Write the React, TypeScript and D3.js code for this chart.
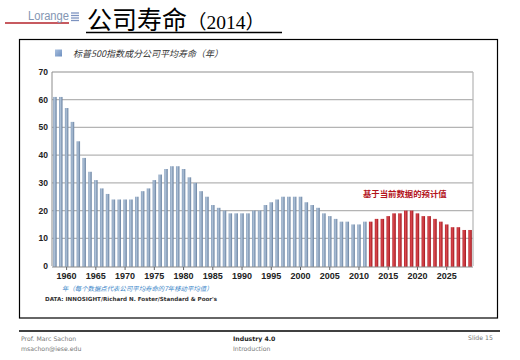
import React, { useRef, useEffect } from 'react';
import * as d3 from 'd3';

// S&P 500 average company lifespan (7-year rolling average), years
const firstYear = 1958;
const actualValues = [
  61, 61, 57, 52, 45, 39, 34, 31, 28, 26,
  24, 24, 24, 24, 25, 27, 28, 31, 33, 35,
  36, 36, 35, 32, 30, 27, 25, 22, 21, 20,
  19, 19, 19, 19, 20, 20, 22, 23, 24, 25,
  25, 25, 25, 23, 22, 21, 19, 18, 17, 16,
  16, 15, 15, 16,
];
// projection based on current data, 2012 onwards
const projectedValues = [16, 17, 17, 18, 19, 19, 20, 20, 19, 18, 18, 17, 16, 15, 14, 14, 13, 13];
const tickYears = [1960, 1965, 1970, 1975, 1980, 1985, 1990, 1995, 2000, 2005, 2010, 2015, 2020, 2025];
const yTicks = [0, 10, 20, 30, 40, 50, 60, 70];

const titleMain = '公司寿命';
const titleYear = '（2014）';
const legendLabel = '标普500指数成分公司平均寿命（年）';
const projectionLabel = '基于当前数据的预计值';
const noteLabel = '年（每个数据点代表公司平均寿命的7年移动平均值）';
const sourceLabel = "DATA: INNOSIGHT/Richard N. Foster/Standard & Poor's";

const W = 520;
const H = 360;

const App: React.FC = () => {
  const svgRef = useRef<SVGSVGElement>(null);

  useEffect(() => {
    if (!svgRef.current) return;
    const svg = d3.select(svgRef.current);
    svg.selectAll('*').remove();

    const data = [
      ...actualValues.map((v, i) => ({ year: firstYear + i, value: v, projected: false })),
      ...projectedValues.map((v, i) => ({ year: firstYear + actualValues.length + i, value: v, projected: true })),
    ];

    const plot = { left: 52, right: 473, top: 72, bottom: 266 };

    const x = d3
      .scaleBand<number>()
      .domain(data.map(d => d.year))
      .range([plot.left, plot.right])
      .paddingInner(0.4)
      .paddingOuter(0.2);

    const y = d3.scaleLinear().domain([0, 70]).range([plot.bottom, plot.top]);

    // gradients for the bars
    const defs = svg.append('defs');
    const blue = defs.append('linearGradient').attr('id', 'bar-blue').attr('x1', 0).attr('x2', 1).attr('y1', 0).attr('y2', 0);
    blue.append('stop').attr('offset', '0%').attr('stop-color', '#849dbb');
    blue.append('stop').attr('offset', '40%').attr('stop-color', '#adc0d6');
    blue.append('stop').attr('offset', '100%').attr('stop-color', '#67809f');
    const red = defs.append('linearGradient').attr('id', 'bar-red').attr('x1', 0).attr('x2', 1).attr('y1', 0).attr('y2', 0);
    red.append('stop').attr('offset', '0%').attr('stop-color', '#b3222a');
    red.append('stop').attr('offset', '40%').attr('stop-color', '#dc4a50');
    red.append('stop').attr('offset', '100%').attr('stop-color', '#9c151c');
    const legendGrad = defs.append('linearGradient').attr('id', 'legend-blue').attr('x1', 0).attr('x2', 1).attr('y1', 0).attr('y2', 1);
    legendGrad.append('stop').attr('offset', '0%').attr('stop-color', '#a9c0df');
    legendGrad.append('stop').attr('offset', '100%').attr('stop-color', '#6d8fbf');

    svg.append('rect').attr('width', W).attr('height', H).attr('fill', '#ffffff');

    // Logo
    svg.append('line')
      .attr('x1', 5).attr('x2', 69).attr('y1', 23).attr('y2', 23)
      .attr('stroke', '#b5232b').attr('stroke-width', 1.6);
    svg.append('text')
      .attr('x', 28).attr('y', 20)
      .attr('font-family', 'Liberation Sans, Arial, sans-serif')
      .attr('font-size', 12)
      .attr('textLength', 41)
      .attr('lengthAdjust', 'spacingAndGlyphs')
      .attr('fill', '#8496b3')
      .text('Lorange');
    [13, 15.5, 18, 20.5].forEach(yy => {
      svg.append('line')
        .attr('x1', 71).attr('x2', 79).attr('y1', yy).attr('y2', yy)
        .attr('stroke', '#7d93c0').attr('stroke-width', 1.3);
    });

    // Title
    const title = svg.append('text')
      .attr('x', 87).attr('y', 29)
      .attr('font-family', 'Liberation Serif, Noto Sans CJK SC, serif')
      .attr('fill', '#000000');
    title.append('tspan').attr('font-size', 25).text(titleMain);
    title.append('tspan').attr('font-size', 19.5).text(titleYear);
    svg.append('line')
      .attr('x1', 86).attr('x2', 282).attr('y1', 32.5).attr('y2', 32.5)
      .attr('stroke', '#000000').attr('stroke-width', 1.4);

    // Frame
    svg.append('rect')
      .attr('x', 19.5).attr('y', 39.5).attr('width', 478).attr('height', 278.5)
      .attr('fill', 'none').attr('stroke', '#000000').attr('stroke-width', 1.2);

    // Legend
    svg.append('rect')
      .attr('x', 55).attr('y', 49.5).attr('width', 7).attr('height', 7)
      .attr('fill', 'url(#legend-blue)');
    svg.append('text')
      .attr('x', 73).attr('y', 56.5)
      .attr('font-family', 'Noto Sans CJK SC, sans-serif')
      .attr('font-size', 9)
      .attr('font-style', 'italic')
      .attr('fill', '#333333')
      .text(legendLabel);

    // Gridlines
    svg.append('g')
      .selectAll('line')
      .data(yTicks.filter(t => t > 0))
      .enter()
      .append('line')
      .attr('x1', plot.left).attr('x2', plot.right)
      .attr('y1', d => y(d)).attr('y2', d => y(d))
      .attr('stroke', '#b4b4b4').attr('stroke-width', 1.3);

    svg.append('line')
      .attr('x1', plot.right).attr('x2', plot.right)
      .attr('y1', plot.top).attr('y2', plot.bottom)
      .attr('stroke', '#b4b4b4').attr('stroke-width', 1.2);

    // Bars
    svg.append('g')
      .selectAll('rect')
      .data(data)
      .enter()
      .append('rect')
      .attr('x', d => x(d.year) as number)
      .attr('y', d => y(d.value))
      .attr('width', x.bandwidth())
      .attr('height', d => y(0) - y(d.value) + 1)
      .attr('fill', d => (d.projected ? 'url(#bar-red)' : 'url(#bar-blue)'));

    // Y axis
    svg.append('line')
      .attr('x1', plot.left).attr('x2', plot.left)
      .attr('y1', plot.top).attr('y2', plot.bottom)
      .attr('stroke', '#8c8c8c').attr('stroke-width', 1);
    svg.append('g')
      .selectAll('text')
      .data(yTicks)
      .enter()
      .append('text')
      .attr('x', plot.left - 4)
      .attr('y', d => y(d) + 3)
      .attr('text-anchor', 'end')
      .attr('font-family', 'Liberation Sans, Arial, sans-serif')
      .attr('font-size', 8.5)
      .attr('font-weight', 'bold')
      .attr('fill', '#222222')
      .text(d => d);

    // X axis
    svg.append('line')
      .attr('x1', plot.left).attr('x2', plot.right)
      .attr('y1', plot.bottom + 1).attr('y2', plot.bottom + 1)
      .attr('stroke', '#8c8c8c').attr('stroke-width', 1);
    const xt = svg.append('g')
      .selectAll('g')
      .data(tickYears)
      .enter()
      .append('g')
      .attr('transform', d => `translate(${(x(d) as number) + x.bandwidth() / 2},${plot.bottom})`);
    xt.append('line')
      .attr('y1', 1).attr('y2', 4)
      .attr('stroke', '#666666').attr('stroke-width', 1);
    xt.append('text')
      .attr('y', 12.5)
      .attr('text-anchor', 'middle')
      .attr('font-family', 'Liberation Sans, Arial, sans-serif')
      .attr('font-size', 9)
      .attr('font-weight', 'bold')
      .attr('fill', '#222222')
      .text(d => d);

    // Projection annotation
    svg.append('text')
      .attr('x', 363).attr('y', 197)
      .attr('font-family', 'Noto Sans CJK SC, sans-serif')
      .attr('font-size', 8.4)
      .attr('font-weight', 'bold')
      .attr('fill', '#b3141c')
      .text(projectionLabel);

    // Notes
    svg.append('text')
      .attr('x', 62).attr('y', 291)
      .attr('font-family', 'Noto Sans CJK SC, sans-serif')
      .attr('font-size', 6.4)
      .attr('font-style', 'italic')
      .attr('fill', '#3d87c9')
      .text(noteLabel);
    svg.append('text')
      .attr('x', 45).attr('y', 300.5)
      .attr('font-family', 'DejaVu Sans, sans-serif')
      .attr('font-size', 5.6)
      .attr('font-weight', 'bold')
      .attr('fill', '#333333')
      .text(sourceLabel);

    // Footer
    svg.append('line')
      .attr('x1', 19).attr('x2', 500).attr('y1', 331).attr('y2', 331)
      .attr('stroke', '#000000').attr('stroke-width', 1.3);
    const footer = [
      { x: 21, y: 340.5, text: 'Prof. Marc Sachon', bold: false },
      { x: 21, y: 350.5, text: 'msachon@iese.edu', bold: false },
      { x: 233, y: 340.5, text: 'Industry 4.0', bold: true },
      { x: 233, y: 350.5, text: 'Introduction', bold: false },
      { x: 468, y: 339.5, text: 'Slide 15', bold: false },
    ];
    svg.append('g')
      .selectAll('text')
      .data(footer)
      .enter()
      .append('text')
      .attr('x', d => d.x)
      .attr('y', d => d.y)
      .attr('font-family', 'DejaVu Sans, sans-serif')
      .attr('font-size', 6.2)
      .attr('font-weight', d => (d.bold ? 'bold' : 'normal'))
      .attr('fill', d => (d.bold ? '#222222' : '#777777'))
      .text(d => d.text);
  }, []);

  return (
    <svg
      ref={svgRef}
      width={W}
      height={H}
      style={{ position: 'absolute', left: 0, top: 0, display: 'block' }}
    />
  );
};

export default App;
